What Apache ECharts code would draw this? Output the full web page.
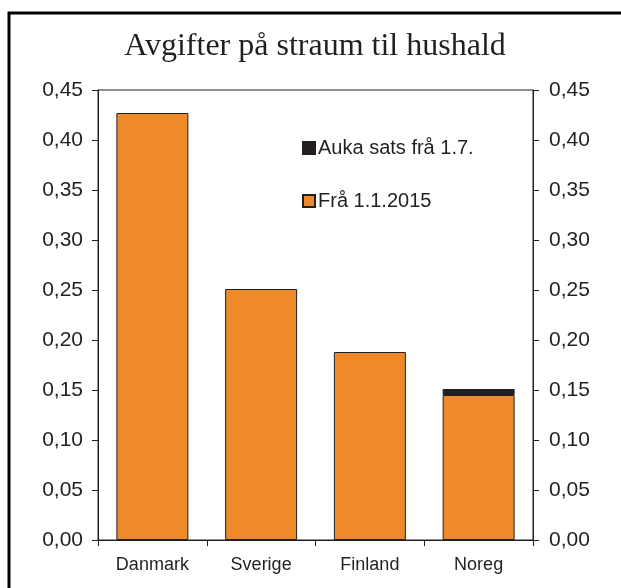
<!DOCTYPE html>
<html>
<head>
<meta charset="utf-8">
<script src="https://cdn.jsdelivr.net/npm/echarts@6/dist/echarts.min.js"></script>
<style>
  html, body { margin: 0; padding: 0; background: #fff; }
  #chart { width: 621px; height: 588px; }
</style>
</head>
<body>
<div id="chart"></div>
<script>
let categories = ["Danmark", "Sverige", "Finland", "Noreg"];
let baseValues = [0.427, 0.251, 0.188, 0.145];
let increaseValues = [null, null, null, 0.006];
let yTicks = { min: 0, max: 0.45, interval: 0.05 };

let chart = echarts.init(document.getElementById("chart"));
let ink = "#231f20";
let fmt = function (value) {
  return value.toFixed(2).replace(".", ",");
};
let yAxisCommon = (pos) => {
  return {
    type: "value",
    position: pos,
    min: yTicks.min,
    max: yTicks.max,
    interval: yTicks.interval,
    axisLine: { show: true, lineStyle: { color: ink, width: 1 } },
    axisTick: { show: true, length: 6, lineStyle: { color: ink } },
    splitLine: { show: false },
    axisLabel: {
      formatter: fmt,
      color: ink,
      fontFamily: "Liberation Sans",
      fontSize: 21,
      margin: pos === "left" ? 15 : 16,
    },
  };
};
let option = {
  animation: false,
  title: {
    text: "Avgifter på straum til hushald",
    left: 310,
    textAlign: "center",
    top: 26,
    textStyle: {
      fontFamily: "Liberation Serif",
      fontWeight: "normal",
      fontSize: 32,
      color: ink,
    },
  },
  graphic: [
    {
      type: "rect",
      shape: { x: 9, y: 13, width: 800, height: 800 },
      style: { fill: "none", stroke: "#000", lineWidth: 3 },
      z: 100,
    },
  ],
  legend: {
    orient: "vertical",
    left: 297,
    top: 133,
    itemGap: 33,
    itemWidth: 12,
    itemHeight: 12,
    icon: "rect",
    data: ["Auka sats frå 1.7.", "Frå 1.1.2015"],
    textStyle: {
      fontFamily: "Liberation Sans",
      fontSize: 20,
      color: ink,
      padding: [0, 0, 0, -2],
    },
  },
  grid: {
    left: 98,
    right: 88,
    top: 90,
    bottom: 48,
    show: true,
    borderColor: ink,
    borderWidth: 1,
  },
  xAxis: {
    type: "category",
    data: categories,
    axisLine: { lineStyle: { color: ink, width: 1 } },
    axisTick: { show: true, length: 6, lineStyle: { color: ink } },
    axisLabel: {
      color: ink,
      fontFamily: "Liberation Sans",
      fontSize: 18,
      margin: 16,
    },
  },
  yAxis: [yAxisCommon("left"), yAxisCommon("right")],
  series: [
    {
      name: "Frå 1.1.2015",
      type: "bar",
      stack: "total",
      barWidth: 72,
      data: baseValues,
      itemStyle: { color: "#ef8a2a", borderColor: ink, borderWidth: 1 },
    },
    {
      name: "Auka sats frå 1.7.",
      type: "bar",
      stack: "total",
      barWidth: 72,
      data: increaseValues,
      itemStyle: { color: ink, borderColor: ink, borderWidth: 1 },
    },
  ],
};
chart.setOption(option);
</script>
</body>
</html>
